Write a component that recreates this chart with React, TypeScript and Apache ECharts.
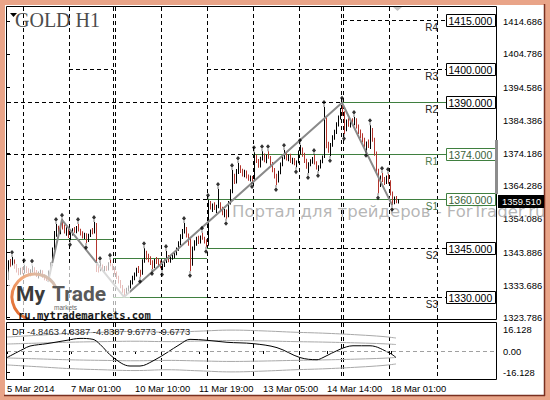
import React, { useEffect, useRef } from "react";
import * as echarts from "echarts";

// ---------- DATA ----------
// H1 bars of GOLD, [open, high, low, close], one per hour, oldest first
const bars: number[][] = [
  [1335.8, 1341.4, 1335.3, 1340.8], [1340.8, 1341.8, 1339.2, 1340.2], [1340.2, 1342.4, 1339.6, 1341.2], [1341.2, 1341.6, 1338.8, 1339.3],
  [1339.3, 1340.2, 1337.6, 1338.1], [1338.1, 1339.0, 1336.8, 1337.4], [1337.4, 1339.1, 1336.9, 1338.6], [1338.6, 1339.3, 1337.2, 1337.8],
  [1337.8, 1339.9, 1337.3, 1339.2], [1339.2, 1339.5, 1337.5, 1338.0], [1338.0, 1338.9, 1336.6, 1337.1], [1337.1, 1338.6, 1336.5, 1338.2],
  [1338.2, 1339.7, 1337.6, 1338.9], [1338.9, 1339.2, 1337.3, 1337.6], [1337.6, 1338.4, 1336.2, 1336.7], [1336.7, 1337.9, 1335.8, 1337.3],
  [1337.3, 1338.5, 1336.6, 1337.9], [1337.9, 1338.3, 1336.0, 1336.4], [1336.4, 1337.1, 1335.2, 1335.6], [1335.6, 1336.6, 1335.0, 1335.4],
  [1335.4, 1338.2, 1334.7, 1337.8], [1337.8, 1340.6, 1337.2, 1340.1], [1340.1, 1345.3, 1339.6, 1344.9], [1344.9, 1350.4, 1344.5, 1349.8],
  [1349.8, 1352.5, 1348.6, 1351.2], [1351.2, 1352.0, 1349.3, 1349.9], [1349.9, 1352.6, 1349.4, 1352.1], [1352.1, 1353.8, 1350.8, 1351.5],
  [1351.5, 1352.4, 1349.6, 1350.3], [1350.3, 1351.5, 1348.9, 1351.0], [1351.0, 1351.3, 1348.2, 1348.7], [1348.7, 1350.0, 1347.6, 1349.5],
  [1349.5, 1351.2, 1349.0, 1350.8], [1350.8, 1351.6, 1349.8, 1350.2], [1350.2, 1351.9, 1349.7, 1351.5], [1351.5, 1352.5, 1350.2, 1350.6],
  [1350.6, 1351.1, 1349.0, 1349.4], [1349.4, 1350.3, 1348.1, 1348.6], [1348.6, 1349.8, 1347.9, 1349.3], [1349.3, 1349.7, 1346.7, 1347.4],
  [1347.4, 1349.5, 1347.0, 1349.0], [1349.0, 1350.8, 1348.5, 1350.2], [1350.2, 1351.3, 1349.4, 1350.0], [1350.0, 1353.1, 1349.6, 1352.4],
  [1352.4, 1352.8, 1337.8, 1339.0], [1339.0, 1340.2, 1337.6, 1338.4], [1338.4, 1340.5, 1338.0, 1339.8], [1339.8, 1340.1, 1338.3, 1338.8],
  [1338.8, 1339.6, 1337.9, 1339.2], [1339.2, 1339.7, 1338.1, 1338.5], [1338.5, 1340.6, 1338.2, 1340.2], [1340.2, 1341.5, 1339.5, 1339.9],
  [1339.9, 1340.3, 1338.3, 1338.7], [1338.7, 1339.2, 1337.0, 1337.4], [1337.4, 1337.9, 1335.6, 1336.0], [1336.0, 1336.6, 1334.2, 1334.8],
  [1334.8, 1335.3, 1332.8, 1333.3], [1333.3, 1333.8, 1331.4, 1331.9], [1331.9, 1332.6, 1330.1, 1330.8], [1330.8, 1332.9, 1330.4, 1332.5],
  [1332.5, 1333.6, 1331.8, 1333.2], [1333.2, 1335.2, 1332.7, 1334.8], [1334.8, 1336.6, 1333.9, 1336.1], [1336.1, 1337.6, 1335.2, 1337.0],
  [1337.0, 1339.1, 1336.4, 1338.6], [1338.6, 1339.6, 1337.5, 1338.0], [1338.0, 1338.5, 1336.3, 1337.2], [1337.2, 1341.7, 1336.9, 1341.2],
  [1341.2, 1345.1, 1340.6, 1343.8], [1343.8, 1344.3, 1341.5, 1342.0], [1342.0, 1343.4, 1340.8, 1341.3], [1341.3, 1342.6, 1339.9, 1340.4],
  [1340.4, 1341.4, 1338.7, 1339.3], [1339.3, 1341.8, 1339.0, 1341.2], [1341.2, 1342.4, 1340.2, 1340.7], [1340.7, 1341.9, 1339.6, 1340.0],
  [1340.0, 1341.3, 1338.9, 1339.4], [1339.4, 1340.3, 1338.4, 1339.9], [1339.9, 1341.6, 1339.3, 1341.0], [1341.0, 1344.2, 1340.5, 1342.2],
  [1342.2, 1343.0, 1340.8, 1341.4], [1341.4, 1342.8, 1340.6, 1342.3], [1342.3, 1343.4, 1341.5, 1342.9], [1342.9, 1344.0, 1342.0, 1343.5],
  [1343.5, 1345.3, 1342.9, 1344.8], [1344.8, 1347.2, 1344.3, 1346.7], [1346.7, 1349.4, 1346.0, 1348.9], [1348.9, 1351.0, 1347.9, 1350.3],
  [1350.3, 1352.8, 1349.6, 1350.8], [1350.8, 1351.6, 1348.4, 1349.0], [1349.0, 1349.6, 1345.8, 1346.4], [1346.4, 1348.3, 1338.1, 1340.2],
  [1340.2, 1345.6, 1339.7, 1345.0], [1345.0, 1347.5, 1344.4, 1346.9], [1346.9, 1348.6, 1345.8, 1348.0], [1348.0, 1348.9, 1346.4, 1347.1],
  [1347.1, 1349.0, 1346.5, 1348.5], [1348.5, 1349.8, 1347.7, 1348.1], [1348.1, 1348.6, 1346.5, 1347.0], [1347.0, 1347.8, 1345.5, 1346.1],
  [1346.1, 1359.9, 1345.8, 1358.9], [1358.9, 1359.6, 1357.0, 1357.6], [1357.6, 1358.8, 1356.2, 1358.3], [1358.3, 1359.2, 1356.8, 1357.3],
  [1357.3, 1358.4, 1355.9, 1357.9], [1357.9, 1363.3, 1357.4, 1358.6], [1358.6, 1359.2, 1356.4, 1356.9], [1356.9, 1357.8, 1355.2, 1355.8],
  [1355.8, 1357.1, 1354.6, 1356.5], [1356.5, 1357.0, 1354.1, 1355.0], [1355.0, 1359.6, 1354.6, 1359.1], [1359.1, 1363.2, 1358.5, 1362.6],
  [1362.6, 1369.1, 1362.0, 1366.4], [1366.4, 1368.0, 1364.8, 1365.5], [1365.5, 1369.4, 1365.0, 1368.8], [1368.8, 1371.3, 1367.9, 1369.9],
  [1369.9, 1370.6, 1368.2, 1368.8], [1368.8, 1369.5, 1367.1, 1367.6], [1367.6, 1369.2, 1366.9, 1368.5], [1368.5, 1369.0, 1366.5, 1367.0],
  [1367.0, 1367.7, 1365.8, 1366.3], [1366.3, 1367.4, 1365.6, 1366.9], [1366.9, 1367.3, 1365.4, 1366.0], [1366.0, 1374.6, 1365.8, 1373.4],
  [1373.4, 1373.9, 1371.3, 1371.9], [1371.9, 1372.5, 1369.8, 1370.4], [1370.4, 1373.2, 1369.9, 1372.6], [1372.6, 1374.9, 1372.0, 1373.8],
  [1373.8, 1374.2, 1371.5, 1372.1], [1372.1, 1373.8, 1371.2, 1373.3], [1373.3, 1374.9, 1372.6, 1373.0], [1373.0, 1373.4, 1370.2, 1370.8],
  [1370.8, 1371.6, 1368.4, 1368.9], [1368.9, 1369.7, 1366.5, 1367.1], [1367.1, 1368.0, 1364.5, 1365.8], [1365.8, 1368.9, 1365.3, 1368.4],
  [1368.4, 1371.4, 1367.8, 1370.9], [1370.9, 1373.6, 1370.3, 1373.0], [1373.0, 1375.3, 1372.4, 1374.0], [1374.0, 1374.6, 1372.0, 1372.6],
  [1372.6, 1373.9, 1371.8, 1373.4], [1373.4, 1374.1, 1371.3, 1371.8], [1371.8, 1372.9, 1370.9, 1372.4], [1372.4, 1372.8, 1370.6, 1371.0],
  [1371.0, 1372.0, 1370.0, 1371.6], [1371.6, 1375.1, 1371.2, 1374.6], [1374.6, 1376.8, 1373.9, 1375.5], [1375.5, 1376.0, 1373.2, 1373.7],
  [1373.7, 1374.4, 1371.3, 1371.8], [1371.8, 1372.6, 1369.5, 1370.1], [1370.1, 1371.5, 1368.2, 1370.9], [1370.9, 1372.4, 1370.3, 1371.9],
  [1371.9, 1373.1, 1371.0, 1372.5], [1372.5, 1373.7, 1370.8, 1371.2], [1371.2, 1371.8, 1369.3, 1369.8], [1369.8, 1370.6, 1368.8, 1370.1],
  [1370.1, 1372.3, 1369.6, 1371.8], [1371.8, 1373.6, 1371.2, 1373.1], [1373.1, 1388.5, 1372.8, 1384.5], [1384.5, 1385.3, 1375.8, 1376.5],
  [1376.5, 1377.8, 1374.4, 1375.0], [1375.0, 1377.4, 1373.4, 1376.9], [1376.9, 1379.8, 1376.3, 1379.2], [1379.2, 1381.5, 1378.4, 1380.9],
  [1380.9, 1383.8, 1380.2, 1383.2], [1383.2, 1385.9, 1382.5, 1385.3], [1385.3, 1388.2, 1384.6, 1387.5], [1387.5, 1389.8, 1385.8, 1386.4],
  [1386.4, 1387.2, 1380.2, 1381.5], [1381.5, 1384.6, 1381.0, 1384.0], [1384.0, 1385.0, 1382.4, 1382.9], [1382.9, 1384.8, 1382.2, 1384.2],
  [1384.2, 1385.0, 1382.8, 1383.4], [1383.4, 1385.4, 1382.9, 1384.6], [1384.6, 1385.0, 1381.9, 1382.4], [1382.4, 1383.1, 1380.2, 1380.8],
  [1380.8, 1381.6, 1378.9, 1379.5], [1379.5, 1380.4, 1377.6, 1378.1], [1378.1, 1379.0, 1376.2, 1376.8], [1376.8, 1377.9, 1375.0, 1377.3],
  [1377.3, 1378.5, 1375.9, 1376.4], [1376.4, 1382.9, 1375.6, 1381.5], [1381.5, 1382.0, 1377.8, 1378.4], [1378.4, 1379.0, 1373.5, 1374.1],
  [1374.1, 1374.8, 1368.0, 1368.8], [1368.8, 1369.5, 1362.0, 1364.5], [1364.5, 1367.4, 1363.9, 1366.8], [1366.8, 1368.2, 1365.4, 1366.0],
  [1366.0, 1367.0, 1364.5, 1365.2], [1365.2, 1367.4, 1364.8, 1366.9], [1366.9, 1367.9, 1364.9, 1365.4], [1365.4, 1366.0, 1361.3, 1361.9],
  [1361.9, 1362.5, 1358.4, 1359.0], [1359.0, 1361.0, 1358.6, 1360.4], [1360.4, 1361.1, 1358.9, 1359.3], [1359.3, 1360.2, 1358.8, 1359.51],
];

const upFractals = [2, 8, 12, 24, 27, 35, 43, 46, 51, 68, 79, 88, 97, 100, 105, 112, 115, 123, 127, 130, 138, 146, 153, 158, 167, 173, 181, 187, 190];
const downFractals = [31, 39, 66, 72, 77, 91, 99, 109, 122, 134, 144, 150, 155, 161, 168, 179, 185, 192];
const zigzagIdx = [20, 27, 58, 167, 192];
const zigzagKind = ["low", "high", "low", "high", "low"];

const daySeparators = [8, 31, 53, 54, 77, 100, 123, 146, 167, 168, 191, 215];
const timeTickIdx = [0, 32, 64, 96, 128, 160, 192];
const timeLabels = ["5 Mar 2014", "7 Mar 01:00", "10 Mar 10:00", "11 Mar 19:00", "13 Mar 05:00", "14 Mar 14:00", "18 Mar 01:00"];

const priceTicks = [1414.686, 1404.786, 1394.586, 1384.386, 1374.186, 1364.286, 1354.086, 1343.886, 1333.686, 1323.786];
const priceMin = 1323.02;
const priceMax = 1419.21;
const lastPrice = 1359.51;

const pivotNames = ["R4", "R3", "R2", "R1", "S1", "S2", "S3"];
const pivotLevels = [1415, 1400, 1390, 1374, 1360, 1345, 1330];
// [fromIndex, toIndex, price]
const dottedSegments = [
  [168, 219.5, 1415], [31, 53, 1400], [100, 219.5, 1400], [0, 168, 1390], [0, 123, 1374],
  [0, 100, 1360], [123, 219.5, 1345], [100, 219.5, 1330],
];
const greenSegments = [
  [168, 219.5, 1390], [123, 219.5, 1374], [31, 53, 1360], [100, 219.5, 1360], [0, 53, 1347.9],
  [100, 123, 1345], [53, 100, 1341.8], [53, 100, 1330],
];

const dfIdx = [0, 8, 11.5, 20, 30, 36.5, 43, 46.5, 53, 61.5, 66.5, 73, 80, 86.5, 91.5, 100, 110, 123, 135, 146.5, 155, 158, 166.5, 173, 181.5, 191.5, 194.5];
const dfValues = [-4.9, 1.3, 3.7, 5.5, 8.0, 9.4, 8.7, 5.0, -4.7, -11.2, -11.2, -7.4, -1.2, 5.0, 8.7, 8.0, 6.5, 5.5, 2.5, -4.9, -6.5, -4.9, 1.3, 3.9, 3.9, -1.7, -4.85];
const bandIdx = [0, 16, 32, 48, 64, 80, 96, 112, 128, 144, 160, 176, 188, 194.5];
const bandOuterUp = [10.4, 11.8, 13.2, 14.0, 14.6, 14.0, 14.8, 15.6, 15.0, 14.0, 13.2, 12.0, 10.8, 9.68];
const bandInnerUp = [5.2, 5.9, 6.6, 7.0, 7.3, 7.0, 7.4, 7.8, 7.5, 7.0, 6.6, 6.0, 5.4, 4.84];
const bandInnerDown = [-5.2, -5.9, -6.6, -7.0, -7.3, -7.0, -7.4, -7.8, -7.5, -7.0, -6.6, -6.0, -5.4, -4.84];
const bandOuterDown = [-10.4, -11.8, -13.2, -14.0, -14.6, -14.0, -14.8, -15.6, -15.0, -14.0, -13.2, -12.0, -10.8, -9.68];
const dfTicks = [16.128, 0, -16.128];
const dfMin = -20.9;
const dfMax = 20.9;
const dfLegend = "DF -4.8463 4.8387 -4.8387 9.6773 -9.6773";

// ---------- CHART ----------
const FONT = '"Liberation Sans", Arial, sans-serif';
const UP = "#000000";
const DOWN = "#b3352d";
const GREEN = "#3f7f3f";
const LEVEL_END = 219.5;
const BOX_END = 244;
const NAME_X = 215.5;

export default function App() {
  const ref = useRef<HTMLDivElement>(null);

  useEffect(() => {
    const chart = echarts.init(ref.current!, null, { renderer: "svg", width: 550, height: 400 });

    const barData = bars.map((b, i) => [i + 0.5, b[0], b[1], b[2], b[3]]);
    const upData = upFractals.map((i) => [i + 0.5, bars[i][1]]);
    const downData = downFractals.map((i) => [i + 0.5, bars[i][2]]);
    const zigData = zigzagIdx.map((i, k) => [i + 0.5, zigzagKind[k] === "high" ? bars[i][1] : bars[i][2]]);
    const band = (vals: number[]) => bandIdx.map((x, k) => [x, vals[k]]);

    const sepRender = (params: any, api: any) => {
      const x = Math.round(api.coord([api.value(0), api.value(1)])[0]) + 0.5;
      const cs = params.coordSys;
      return {
        type: "line",
        shape: { x1: x, y1: cs.y, x2: x, y2: cs.y + cs.height },
        style: { stroke: "#000", lineWidth: 1, lineDash: [4, 3] },
      };
    };
    const segRender = (color: string, dash: number[] | null) => (params: any, api: any) => {
      const p1 = api.coord([api.value(0), api.value(2)]);
      const p2 = api.coord([api.value(1), api.value(2)]);
      const y = Math.floor(p1[1]) + 0.5;
      return {
        type: "line",
        shape: { x1: p1[0], y1: y, x2: p2[0], y2: y },
        style: { stroke: color, lineWidth: 1, lineDash: dash || undefined },
      };
    };

    const option: any = {
      animation: false,
      backgroundColor: "#e9a488",
      textStyle: { fontFamily: FONT },
      grid: [
        { left: 7, top: 7, width: 490, height: 313, containLabel: false, outerBoundsMode: "none" },
        { left: 7, top: 323, width: 490, height: 56, containLabel: false, outerBoundsMode: "none" },
      ],
      xAxis: [
        { type: "value", gridIndex: 0, min: 0, max: 245, show: false },
        {
          type: "value", gridIndex: 1, min: 0, max: 245,
          axisLine: { show: false }, splitLine: { show: false },
          axisTick: { show: true, customValues: timeTickIdx, length: 3, lineStyle: { color: "#000" } },
          axisLabel: {
            customValues: timeTickIdx,
            formatter: (v: number) => timeLabels[timeTickIdx.indexOf(v)] ?? "",
            align: "left", margin: 5, color: "#000", fontSize: 9.4, fontFamily: FONT,
          },
        },
      ],
      yAxis: [
        {
          type: "value", gridIndex: 0, position: "right", min: priceMin, max: priceMax,
          axisLine: { show: false }, splitLine: { show: false },
          axisTick: { show: true, customValues: priceTicks, length: 3, lineStyle: { color: "#000" } },
          axisLabel: { customValues: priceTicks, formatter: (v: number) => v.toFixed(3), margin: 6, color: "#000", fontSize: 9.4, fontFamily: FONT },
        },
        {
          type: "value", gridIndex: 1, position: "right", min: dfMin, max: dfMax,
          axisLine: { show: false }, splitLine: { show: false },
          axisTick: { show: true, customValues: dfTicks, length: 3, lineStyle: { color: "#000" } },
          axisLabel: { customValues: dfTicks, formatter: (v: number) => (v === 0 ? "0.00" : v.toFixed(3)), margin: 6, color: "#000", fontSize: 9.4, fontFamily: FONT },
        },
      ],
      graphic: {
        elements: [
          { type: "rect", z: 0, silent: true, shape: { x: 5, y: 5, width: 539, height: 390 }, style: { fill: "#ffffff" } },
          { type: "line", z: 0, silent: true, shape: { x1: 544.5, y1: 4, x2: 544.5, y2: 396 }, style: { stroke: "#7a3020", lineWidth: 1.5 } },
          { type: "line", z: 0, silent: true, shape: { x1: 4, y1: 395.5, x2: 545, y2: 395.5 }, style: { stroke: "#7a3020", lineWidth: 1.5 } },
          {
            type: "text", z: 1, silent: true, x: 232, y: 211,
            style: { text: "Портал для трейдеров - ForTrader.ru", font: '16.5px "DejaVu Sans"', fill: "rgba(150,150,150,0.7)", textVerticalAlign: "middle", verticalAlign: "middle" },
          },
          // logo
          { type: "rect", z: 10, silent: true, shape: { x: 8, y: 263, width: 122, height: 56, r: 10 }, style: { fill: "rgba(255,255,255,0.68)" } },
          {
            type: "arc", z: 11, silent: true,
            shape: { cx: 35, cy: 297, r: 23, startAngle: 1.9, endAngle: 5.9, clockwise: true },
            style: {
              fill: "none", lineWidth: 3,
              stroke: { type: "linear", x: 0, y: 1, x2: 1, y2: 0, colorStops: [{ offset: 0, color: "#df5f1e" }, { offset: 0.55, color: "#f3a878" }, { offset: 1, color: "#c8c8c8" }] },
            },
          },
          { type: "text", z: 12, silent: true, x: 16, y: 283, style: { text: "My", font: 'bold 21px Roboto, "Liberation Sans"', fill: "#3b3b3b", textVerticalAlign: "top", verticalAlign: "top" } },
          { type: "text", z: 12, silent: true, x: 52, y: 283, style: { text: "Trade", font: 'bold 21px Roboto, "Liberation Sans"', fill: "#595959", textVerticalAlign: "top", verticalAlign: "top" } },
          { type: "text", z: 12, silent: true, x: 54, y: 304, style: { text: "markets", font: '6.5px "Liberation Sans"', fill: "#666", textVerticalAlign: "top", verticalAlign: "top" } },
          { type: "text", z: 12, silent: true, x: 18, y: 309, style: { text: "ru.mytrademarkets.com", font: 'bold 10.5px "DejaVu Sans Mono"', fill: "#1a1a1a", textVerticalAlign: "top", verticalAlign: "top" } },
          // title
          { type: "text", z: 12, silent: true, x: 15, y: 10, style: { text: "GOLD H1", font: '20px "Liberation Serif", serif', fill: "#4c4c4c", textVerticalAlign: "top", verticalAlign: "top" } },
          { type: "polygon", z: 12, silent: true, shape: { points: [[10, 13], [17, 13], [13.5, 17]] }, style: { fill: "#000" } },
          { type: "polygon", z: 12, silent: true, shape: { points: [[393, 7], [402, 7], [397.5, 11]] }, style: { fill: "#c4c4c4" } },
          // borders
          { type: "rect", z: 13, silent: true, shape: { x: 6.5, y: 6.5, width: 490, height: 313 }, style: { fill: "none", stroke: "#000", lineWidth: 1 } },
          { type: "rect", z: 13, silent: true, shape: { x: 6.5, y: 322.5, width: 490, height: 57 }, style: { fill: "none", stroke: "#000", lineWidth: 1 } },
          { type: "rect", z: 14, silent: true, shape: { x: 495, y: 140, width: 3, height: 54 }, style: { fill: "#8c8c8c" } },
          { type: "text", z: 14, silent: true, x: 12, y: 331, style: { text: dfLegend, font: '9.4px "Liberation Sans"', fill: "#222", textVerticalAlign: "middle", verticalAlign: "middle" } },
        ],
      },
      series: [
        { type: "custom", name: "sep0", xAxisIndex: 0, yAxisIndex: 0, z: 2, silent: true, data: daySeparators.map((v) => [v, 1370]), renderItem: sepRender },
        { type: "custom", name: "sep1", xAxisIndex: 1, yAxisIndex: 1, z: 2, silent: true, data: daySeparators.map((v) => [v, 0]), renderItem: sepRender },
        { type: "custom", name: "dotted", xAxisIndex: 0, yAxisIndex: 0, z: 2, silent: true, data: dottedSegments, renderItem: segRender("#000", [4, 3]) },
        { type: "custom", name: "green", xAxisIndex: 0, yAxisIndex: 0, z: 2, silent: true, data: greenSegments, renderItem: segRender(GREEN, null) },
        {
          type: "custom", name: "bars", xAxisIndex: 0, yAxisIndex: 0, z: 3, silent: true, data: barData,
          encode: { x: 0, y: [2, 3] },
          renderItem: (params: any, api: any) => {
            const x = api.value(0);
            const o = api.value(1), h = api.value(2), l = api.value(3), c = api.value(4);
            const top = api.coord([x, h]);
            const bot = api.coord([x, l]);
            return {
              type: "rect",
              shape: { x: Math.floor(top[0]), y: top[1], width: 1, height: Math.max(1, bot[1] - top[1]) },
              style: { fill: c >= o ? UP : DOWN },
            };
          },
        },
        {
          type: "line", name: "zigzag", xAxisIndex: 0, yAxisIndex: 0, z: 4, silent: true, data: zigData,
          symbol: "none", lineStyle: { color: "#8a8a8a", width: 2 },
        },
        {
          type: "scatter", name: "fractalUp", xAxisIndex: 0, yAxisIndex: 0, z: 5, silent: true, data: upData,
          symbol: "path://M3,0 L6,3 L3,6 L0,3 Z M2.5,6 L3.5,6 L3.5,9 L2.5,9 Z", symbolSize: [4, 7], symbolOffset: [0, -3.5],
          itemStyle: { color: "#000" },
        },
        {
          type: "scatter", name: "fractalDown", xAxisIndex: 0, yAxisIndex: 0, z: 5, silent: true, data: downData,
          symbol: "path://M2.5,0 L3.5,0 L3.5,3 L2.5,3 Z M3,3 L6,6 L3,9 L0,6 Z", symbolSize: [4, 7], symbolOffset: [0, 3.5],
          itemStyle: { color: "#000" },
        },
        {
          type: "custom", name: "pivots", xAxisIndex: 0, yAxisIndex: 0, z: 6, silent: true, clip: false,
          data: pivotLevels.map((p, k) => [LEVEL_END, p, k]),
          renderItem: (params: any, api: any) => {
            const price = api.value(1);
            const name = pivotNames[api.value(2)];
            const p = api.coord([LEVEL_END, price]);
            const pe = api.coord([BOX_END, price]);
            const pn = api.coord([NAME_X, price]);
            const y = Math.floor(p[1]) + 0.5;
            const hl = name === "R1" || name === "S1";
            return {
              type: "group",
              children: [
                { type: "rect", shape: { x: Math.floor(p[0]) + 0.5, y: y - 6, width: Math.round(pe[0] - p[0]), height: 12 }, style: { fill: "#fff", stroke: hl ? GREEN : "#000", lineWidth: 1 } },
                { type: "text", style: { x: p[0] + 2.5, y: y + 0.5, text: price.toFixed(3), fill: hl ? "#3a5f3a" : "#000", fontSize: 10.5, fontFamily: FONT, textAlign: "left", align: "left", textVerticalAlign: "middle", verticalAlign: "middle" } },
                { type: "text", style: { x: pn[0], y: y + 2, text: name, fill: hl ? "#4c7a4c" : "#222", fontSize: 10, fontFamily: FONT, textAlign: "right", align: "right", textVerticalAlign: "top", verticalAlign: "top" } },
              ],
            };
          },
        },
        {
          type: "custom", name: "lastPrice", xAxisIndex: 0, yAxisIndex: 0, z: 15, silent: true, clip: false,
          data: [[bars.length - 0.5, lastPrice]],
          renderItem: (params: any, api: any) => {
            const p = api.coord([api.value(0), api.value(1)]);
            const cs = params.coordSys;
            const y = Math.round(p[1]);
            const x0 = cs.x + cs.width + 1;
            return {
              type: "group",
              children: [
                { type: "rect", shape: { x: x0, y: y - 6, width: 46, height: 13 }, style: { fill: "#000" } },
                { type: "text", style: { x: x0 + 4, y: y + 0.5, text: api.value(1).toFixed(3), fill: "#fff", fontSize: 9.4, fontFamily: FONT, textAlign: "left", align: "left", textVerticalAlign: "middle", verticalAlign: "middle" } },
              ],
            };
          },
        },
        // indicator pane
        {
          type: "line", name: "bandOuterUp", xAxisIndex: 1, yAxisIndex: 1, z: 3, silent: true, data: band(bandOuterUp),
          symbol: "none", smooth: 0.4, lineStyle: { color: "#a8a8a8", width: 1 },
        },
        {
          type: "line", name: "bandInnerUp", xAxisIndex: 1, yAxisIndex: 1, z: 3, silent: true, data: band(bandInnerUp),
          symbol: "none", smooth: 0.4, lineStyle: { color: "#a8a8a8", width: 1 },
        },
        {
          type: "line", name: "bandInnerDown", xAxisIndex: 1, yAxisIndex: 1, z: 3, silent: true, data: band(bandInnerDown),
          symbol: "none", smooth: 0.4, lineStyle: { color: "#a8a8a8", width: 1 },
        },
        {
          type: "line", name: "bandOuterDown", xAxisIndex: 1, yAxisIndex: 1, z: 3, silent: true, data: band(bandOuterDown),
          symbol: "none", smooth: 0.4, lineStyle: { color: "#a8a8a8", width: 1 },
        },
        {
          type: "line", name: "DF", xAxisIndex: 1, yAxisIndex: 1, z: 4, silent: true,
          data: dfIdx.map((x, k) => [x, dfValues[k]]),
          symbol: "none", smooth: 0.35, lineStyle: { color: "#000", width: 1 },
          markLine: {
            silent: true, symbol: "none", label: { show: false },
            lineStyle: { color: "#a0a0a0", type: [4, 3], width: 1 },
            data: [{ yAxis: 0 }],
          },
        },
      ],
    };

    chart.setOption(option);
    return () => chart.dispose();
  }, []);

  return <div ref={ref} style={{ position: "absolute", left: 0, top: 0, width: 550, height: 400 }} />;
}
